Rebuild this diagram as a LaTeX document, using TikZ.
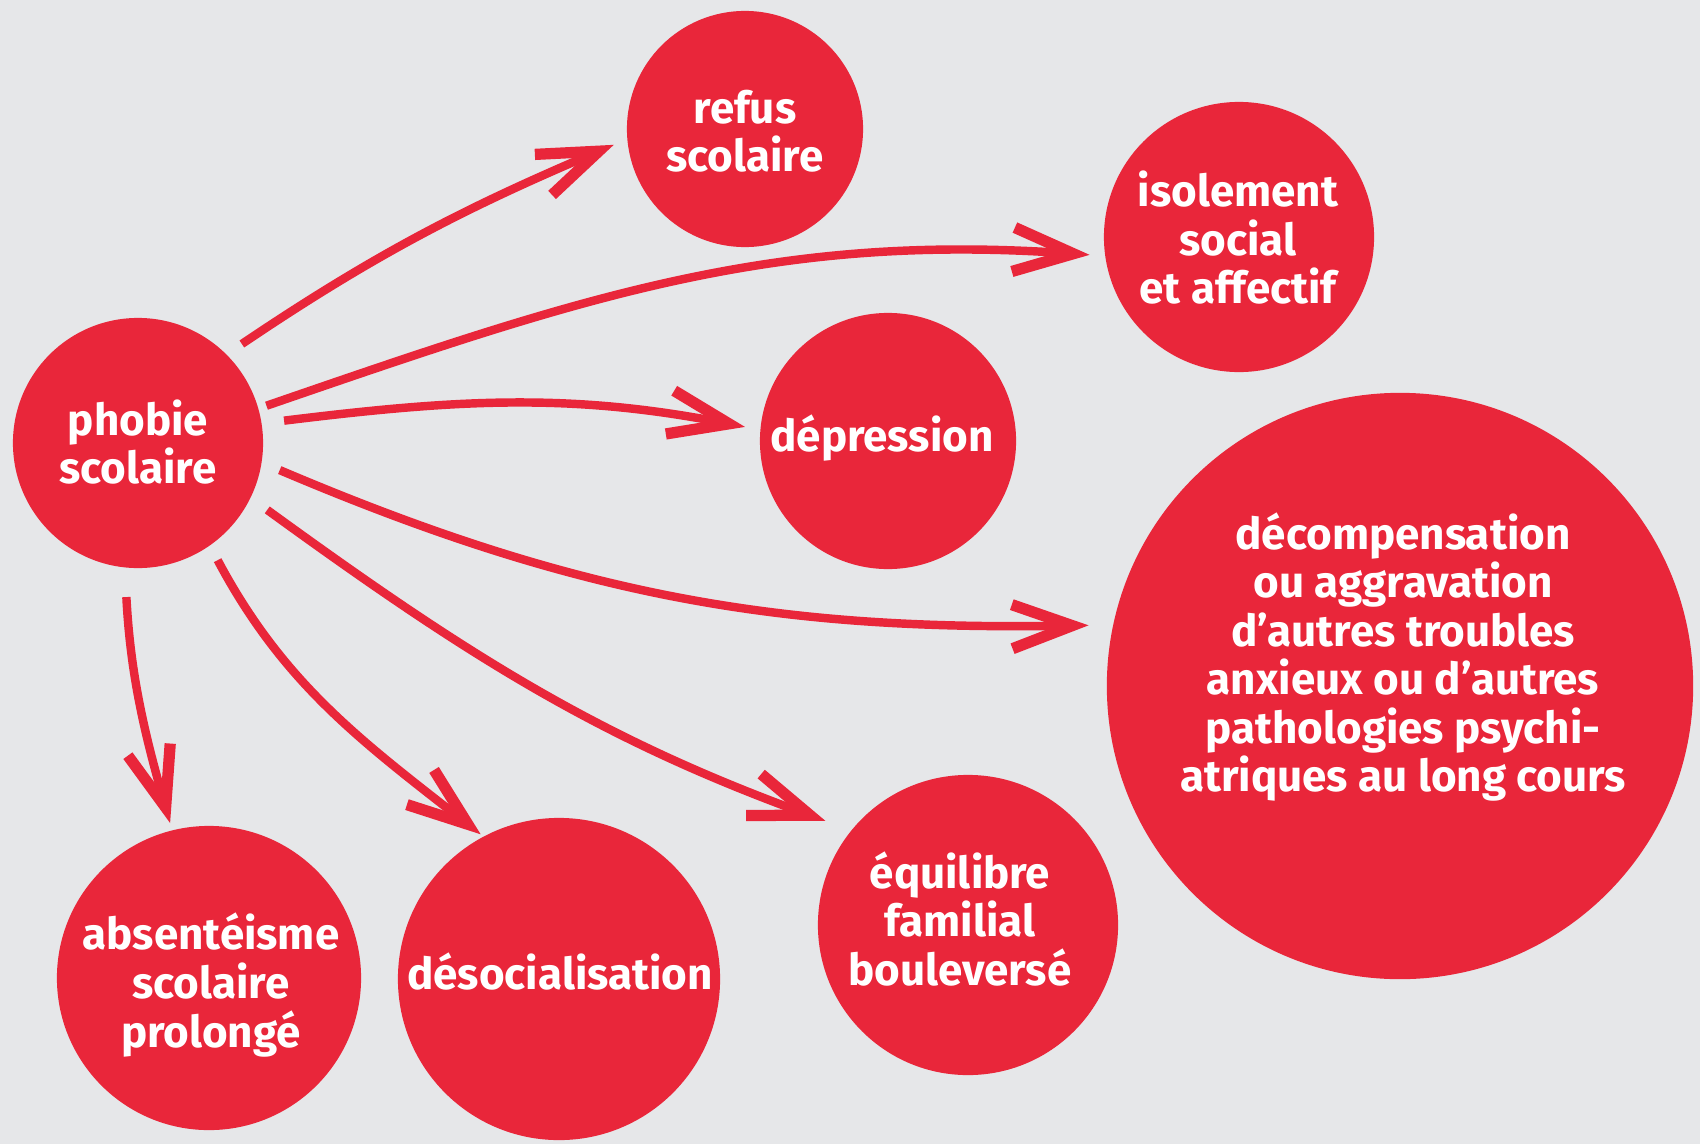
\documentclass[tikz,border=0pt]{standalone}
\usepackage{fontspec}
\setmainfont{Fira Sans}
\usetikzlibrary{arrows.meta}
\definecolor{bg}{RGB}{230,231,233}
\definecolor{rd}{RGB}{233,38,58}
\begin{document}
\begin{tikzpicture}[x=0.01cm,y=0.01cm,
  bub/.style={circle, fill=rd, draw=none, inner sep=0pt},
  txt/.style={text=white, font=\bfseries\fontsize{12.5}{13.8}\selectfont, align=center, inner sep=0pt},
  arr/.style={draw=rd, line width=2.4pt, -{Straight Barb[length=0.6cm,width=0.44cm,line width=3.2pt]}}]
\fill[bg] (0,0) rectangle (1700,1144);
\useasboundingbox (0,0) rectangle (1700,1144);
% circles
\node[bub, minimum size=2.5cm]  (phobie) at (138,701) {};
\node[bub, minimum size=2.36cm] (refus)  at (745,1015) {};
\node[bub, minimum size=2.7cm]  (isol)   at (1239,907) {};
\node[bub, minimum size=2.56cm] (depr)   at (888,703) {};
\node[bub, minimum size=5.86cm] (decomp) at (1400,458) {};
\node[bub, minimum size=3.04cm] (absent) at (209,166) {};
\node[bub, minimum size=3.22cm] (desoc)  at (559,165) {};
\node[bub, minimum size=3.0cm]  (equil)  at (968,219) {};
% texts
\node[txt] (phobieT) at (138,702) {phobie\\scolaire};
\node[txt] (refusT)  at (745,1013) {refus\\scolaire};
\node[txt] (isolT)   at (1238,906) {isolement\\social\\et affectif};
\node[txt] (deprT)   at (882,706) {dépression};
\node[txt] (decompT) at (1403,487) {décompensation\\ou aggravation\\d’autres troubles\\anxieux ou d’autres\\pathologies psychi-\\atriques au long cours};
\node[txt] (absentT) at (211,159) {absentéisme\\scolaire\\prolongé};
\node[txt] (desocT)  at (560,172) {désocialisation};
\node[txt] (equilT)  at (960,225) {équilibre\\familial\\bouleversé};
% arrows
\draw[arr, shorten <=0.18cm, shorten >=0.14cm] (phobie.45) to[out=34,in=203] (refus.185);
\draw[arr, shorten <=0.08cm, shorten >=0.15cm] (phobie.16) to[out=19,in=176] (isol.188);
\draw[arr, shorten <=0.22cm, shorten >=0.15cm] (phobie.9) to[out=7,in=169] (depr.175);
\draw[arr, shorten <=0.19cm, shorten >=0.24cm] (phobie.-9) to[out=-23,in=181] (decomp.168);
\draw[arr, shorten <=0.20cm, shorten >=0.27cm] (phobie.-26) to[out=-36,in=160] (equil.141);
\draw[arr, shorten <=0.16cm, shorten >=0.03cm] (phobie.-55) to[out=-62,in=142] (desoc.118);
\draw[arr, shorten <=0.29cm, shorten >=0.07cm] (phobie.-96) to[out=-87,in=106] (absent.104);
\end{tikzpicture}
\end{document}
